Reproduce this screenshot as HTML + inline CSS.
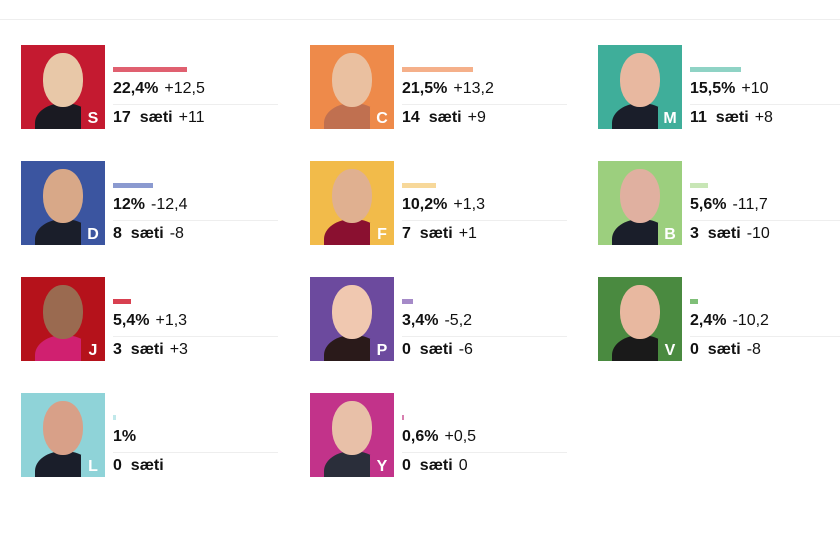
<!DOCTYPE html>
<html><head><meta charset="utf-8"><style>
body{margin:0;width:840px;height:536px;background:#fff;position:relative;overflow:hidden;font-family:"Liberation Sans",sans-serif;color:#111}
.top{position:absolute;left:0;top:19px;width:840px;height:1px;background:#eee}
.c{position:absolute;width:300px;height:84px}
.img{position:absolute;left:0;top:0;width:84px;height:84px;overflow:hidden}
.badge{position:absolute;right:0;bottom:0;width:24px;height:22px;color:#fff;font-weight:bold;font-size:16px;text-align:center;line-height:23px}
.bar{position:absolute;left:92px;top:22px;height:5px}
.r1{position:absolute;left:92px;top:35px;font-size:16px;white-space:nowrap}
.r2{position:absolute;left:92px;top:64px;font-size:16px;white-space:nowrap}
.sep{position:absolute;left:92px;top:59px;width:165px;height:1px;background:#eee}
b{font-weight:bold;margin-right:6px}
</style></head><body>
<div class="top"></div>
<script>
const d=[
[21,45,'#c41a30','#e06070',22.4,'22,4%','+12,5','17','+11','S','#e8c8a8','#1a1a22'],
[310,45,'#ee8a4a','#f5b08a',21.5,'21,5%','+13,2','14','+9','C','#eac0a0','#c07050'],
[598,45,'#3fae9a','#8fd3c5',15.5,'15,5%','+10','11','+8','M','#e8b8a0','#1a1e2a'],
[21,161,'#3b55a0','#8b9ad0',12,'12%','-12,4','8','-8','D','#d8a888','#1a1e2a'],
[310,161,'#f2bb4a','#f7d89a',10.2,'10,2%','+1,3','7','+1','F','#e0b090','#8a1030'],
[598,161,'#9ccf7e','#c8e6b6',5.6,'5,6%','-11,7','3','-10','B','#e0b0a0','#1a1e2a'],
[21,277,'#b5121b','#d84050',5.4,'5,4%','+1,3','3','+3','J','#9a6a50','#d02070'],
[310,277,'#6c4a9e','#a58ac8',3.4,'3,4%','-5,2','0','-6','P','#f0c8b0','#2a1a1a'],
[598,277,'#4a8a40','#7fbf78',2.4,'2,4%','-10,2','0','-8','V','#e8b8a0','#1a1a1a'],
[21,393,'#8fd3d8','#c0e8ea',1,'1%','','0','','L','#d8a088','#1a1e2a'],
[310,393,'#c2338a','#d880b0',0.6,'0,6%','+0,5','0','0','Y','#e8c0a8','#2a2e3a']];
let h='';
d.forEach(([x,y,c,bc,v,p,dp,s,ds,l,sk,cl])=>{
const sw=x>500?242:165;
h+=`<div class="c" style="left:${x}px;top:${y}px"><div class="img" style="background:${c}">
<div style="position:absolute;left:14px;top:58px;width:58px;height:40px;border-radius:50% 50% 0 0;background:${cl}"></div>
<div style="position:absolute;left:22px;top:8px;width:40px;height:54px;border-radius:48%;background:${sk}"></div>
<div class="badge" style="background:${c}">${l}</div></div>
<div class="bar" style="background:${bc};width:${Math.max(2,Math.round(v*3.3))}px"></div>
<div class="r1"><b>${p}</b>${dp}</div><div class="sep" style="width:${sw}px"></div>
<div class="r2"><b>${s} &nbsp;sæti</b>${ds}</div></div>`;});
document.write(h);
</script>
</body></html>
